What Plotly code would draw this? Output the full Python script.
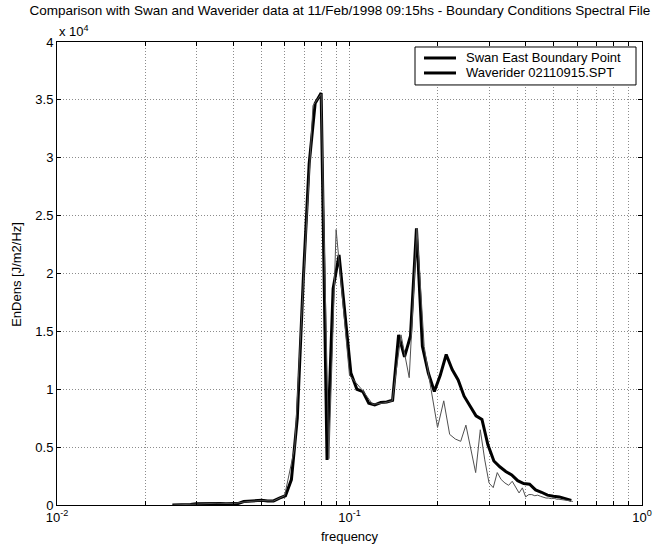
import plotly.graph_objects as go

# Swan East Boundary Point (thick line) - frequency [Hz]
swan_freq = [0.0248, 0.0260, 0.0273, 0.0286, 0.0299, 0.0314, 0.0329, 0.0344, 0.0361, 0.0378,
             0.0396, 0.0415, 0.0435, 0.0456, 0.0478, 0.0501, 0.0525, 0.0550, 0.0576, 0.0604,
             0.0633, 0.0663, 0.0695, 0.0728, 0.0763, 0.0800, 0.0838, 0.0879, 0.0921, 0.0965,
             0.1011, 0.1060, 0.1111, 0.1164, 0.1220, 0.1279, 0.1340, 0.1404, 0.1472, 0.1542,
             0.1616, 0.1694, 0.1775, 0.1860, 0.1950, 0.2043, 0.2141, 0.2244, 0.2352, 0.2465,
             0.2583, 0.2707, 0.2837, 0.2973, 0.3116, 0.3265, 0.3422, 0.3586, 0.3758, 0.3939,
             0.4128, 0.4326, 0.4533, 0.4751, 0.4979, 0.5218, 0.5468, 0.5731]
# energy density [J/m2/Hz]
swan_dens = [0, 0, 0, 50, 100, 120, 120, 120, 120, 100,
             100, 120, 300, 350, 380, 400, 350, 350, 600, 800,
             2200, 7500, 19500, 29500, 34700, 35600, 3900, 18700, 21600, 16300,
             11400, 10000, 9800, 8800, 8650, 8850, 8900, 9050, 14700, 12800,
             14600, 23900, 13700, 11400, 9800, 11200, 13000, 11700, 10800, 9400,
             8500, 7700, 7400, 5200, 3800, 3300, 2900, 2600, 2100, 1850,
             1800, 1300, 1100, 850, 750, 700, 550, 400]

# Waverider 02110915.SPT (thin line)
wave_freq = [0.025, 0.030, 0.035, 0.040, 0.045, 0.050, 0.055, 0.060, 0.065, 0.070,
             0.075, 0.080, 0.085, 0.090, 0.095, 0.100, 0.11, 0.12, 0.13, 0.14,
             0.15, 0.16, 0.17, 0.18, 0.19, 0.20, 0.21, 0.22, 0.23, 0.24,
             0.25, 0.26, 0.27, 0.28, 0.29, 0.30, 0.31, 0.32, 0.33, 0.34,
             0.35, 0.36, 0.37, 0.38, 0.39, 0.40, 0.41, 0.42, 0.43, 0.44,
             0.45, 0.46, 0.47, 0.48, 0.49, 0.50, 0.51, 0.52, 0.53, 0.54,
             0.55, 0.56, 0.57, 0.58]
wave_dens = [0, 100, 150, 120, 300, 380, 350, 800, 5000, 20500,
             34500, 35500, 4000, 23800, 17500, 11200, 10000, 8700, 8800, 9000,
             14700, 11000, 23900, 13700, 10000, 6700, 9000, 6100, 5700, 5500,
             6900, 4800, 2800, 6500, 3900, 1900, 1500, 2800, 2200, 1900,
             1700, 2050, 1500, 1040, 1480, 700, 900, 900, 800, 850,
             750, 650, 600, 600, 550, 600, 500, 500, 470, 450,
             450, 400, 350, 300]

series_names = ["Swan East Boundary Point", "Waverider 02110915.SPT"]

y_tickvals = [0, 5000, 10000, 15000, 20000, 25000, 30000, 35000, 40000]
y_ticktext = ["0", "0.5", "1", "1.5", "2", "2.5", "3", "3.5", "4"]

x_tickvals = [0.01, 0.02, 0.03, 0.04, 0.05, 0.06, 0.07, 0.08, 0.09,
              0.1, 0.2, 0.3, 0.4, 0.5, 0.6, 0.7, 0.8, 0.9, 1.0]
x_ticktext = ["10<sup>-2</sup>", "", "", "", "", "", "", "", "",
              "10<sup>-1</sup>", "", "", "", "", "", "", "", "", "10<sup>0</sup>"]

FONT = "Liberation Sans, Arial, sans-serif"
FS = 13

# plot area in pixels
L, R, T, B = 57, 642, 42, 505.4
W, H = 660, 546


def px(x):
    return (x - L) / (R - L)


def py(y):
    return (B - y) / (B - T)


fig = go.Figure()
fig.add_trace(go.Scatter(x=swan_freq, y=swan_dens, mode="lines", name=series_names[0],
                         line=dict(color="black", width=3), showlegend=False))
fig.add_trace(go.Scatter(x=wave_freq, y=wave_dens, mode="lines", name=series_names[1],
                         line=dict(color="#505050", width=1), showlegend=False))

grid = dict(showgrid=True, gridcolor="#8c8c8c", griddash="1px,2px", gridwidth=1,
            ticks="inside", ticklen=4, tickcolor="black",
            showline=True, linecolor="black", linewidth=1, mirror="ticks",
            zeroline=False, automargin=False,
            tickfont=dict(family=FONT, size=FS, color="black"))

fig.update_layout(
    width=W, height=H,
    margin=dict(l=L, r=W - R, t=T, b=H - B),
    paper_bgcolor="white", plot_bgcolor="white",
    font=dict(family=FONT, size=FS, color="black"),
    showlegend=False,
    title=dict(text="Comparison with Swan and Waverider data at 11/Feb/1998 09:15hs - Boundary Conditions Spectral File",
               x=0.515, xanchor="center", y=0.99, yanchor="top",
               font=dict(family=FONT, size=13.5, color="black")),
    xaxis=dict(type="log", range=[-2, 0], tickvals=x_tickvals, ticktext=x_ticktext, **grid),
    yaxis=dict(range=[0, 40000], tickvals=y_tickvals, ticktext=y_ticktext, **grid),
)

# axis titles
fig.add_annotation(text="frequency", xref="paper", yref="paper", x=0.5, y=py(537),
                   xanchor="center", yanchor="middle", showarrow=False,
                   font=dict(family=FONT, size=FS))
fig.add_annotation(text="EnDens [J/m2/Hz]", xref="paper", yref="paper", x=px(17), y=py(274),
                   xanchor="center", yanchor="middle", showarrow=False, textangle=-90,
                   font=dict(family=FONT, size=FS))
# exponent label
fig.add_annotation(text="x 10<sup>4</sup>", xref="paper", yref="paper", x=0.0, y=py(31),
                   xanchor="left", yanchor="middle", showarrow=False,
                   font=dict(family=FONT, size=FS, color="black"))

# MATLAB-style legend box
fig.add_shape(type="rect", xref="paper", yref="paper",
              x0=px(415), x1=px(636), y0=py(85), y1=py(47),
              line=dict(color="black", width=1), fillcolor="white", layer="above")
for i, (row_y, nm) in enumerate(zip([58, 73], series_names)):
    fig.add_shape(type="line", xref="paper", yref="paper",
                  x0=px(424), x1=px(456), y0=py(row_y), y1=py(row_y),
                  line=dict(color="black", width=3), layer="above")
    fig.add_annotation(text=nm, xref="paper", yref="paper", x=px(464), y=py(row_y),
                       xanchor="left", yanchor="middle", showarrow=False,
                       font=dict(family=FONT, size=FS, color="black"))

fig.write_html("out.html")
